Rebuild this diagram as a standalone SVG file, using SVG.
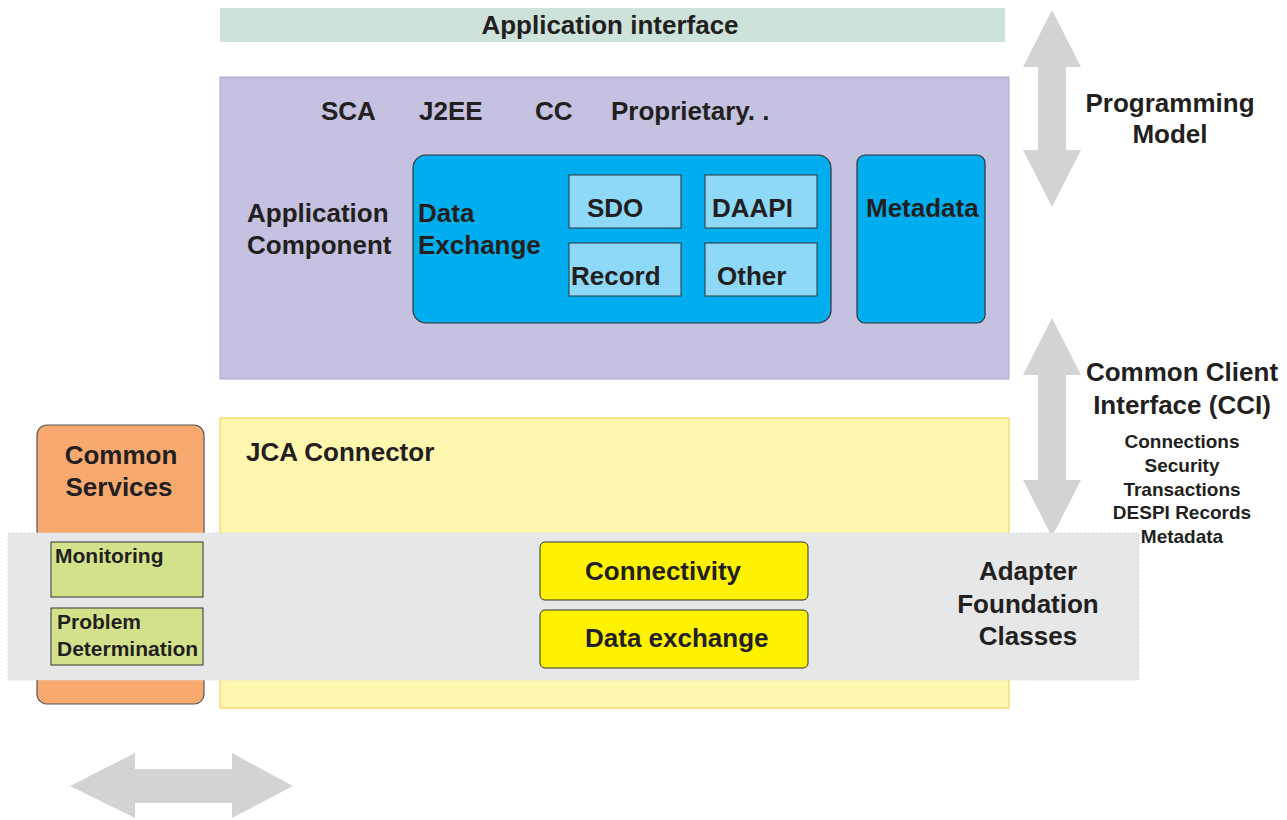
<svg xmlns="http://www.w3.org/2000/svg" width="1287" height="820" viewBox="0 0 1287 820">
<style>
text{font-family:"Liberation Sans",Arial,sans-serif;font-weight:bold;fill:#231f20;font-size:26px}
.s{font-size:19px}
.m{font-size:21px}
.c{text-anchor:middle}
.arrow{fill:#d1d3d4}
.inner{fill:#8ed8f8;stroke:#333;stroke-width:1}
.blue{fill:#00aeef;stroke:#333;stroke-width:1.2}
.green{fill:#d3e28a;stroke:#333;stroke-width:1}
.yel{fill:#fff200;stroke:#333;stroke-width:1}
</style>
<rect width="1287" height="820" fill="#ffffff"/>
<g id="connectors">
<path class="arrow" d="M1052,10 L1081,67 L1066,67 L1066,150 L1081,150 L1052,207 L1023,150 L1038,150 L1038,67 L1023,67 Z"/>
<path class="arrow" d="M1052,318 L1081,375 L1066,375 L1066,480 L1081,480 L1052,537 L1023,480 L1038,480 L1038,375 L1023,375 Z"/>
<path class="arrow" d="M70,786 L135,753 L135,769 L232,769 L232,753 L293,786 L232,818 L232,803 L135,803 L135,818 Z"/>
</g>
<g id="app-interface">
<rect x="220" y="8" width="785" height="34" fill="#cde3da"/>
<text x="610" y="34" class="c">Application interface</text>
</g>
<g id="application-component">
<rect x="220" y="77" width="789" height="302" fill="#c5c1e0" stroke="#aaa4d6" stroke-width="1"/>
<text x="321" y="120">SCA</text>
<text x="419" y="120">J2EE</text>
<text x="535" y="120">CC</text>
<text x="611" y="120">Proprietary. .</text>
<text x="247" y="222">Application</text>
<text x="247" y="254">Component</text>
</g>
<g id="data-exchange">
<rect class="blue" x="413" y="155" width="418" height="168" rx="13"/>
<text x="418" y="222">Data</text>
<text x="418" y="254">Exchange</text>
</g>
<g id="sdo"><rect class="inner" x="569" y="175" width="112" height="53"/><text x="587" y="217">SDO</text></g>
<g id="daapi"><rect class="inner" x="705" y="175" width="112" height="53"/><text x="712" y="217">DAAPI</text></g>
<g id="record"><rect class="inner" x="569" y="243" width="112" height="53"/><text x="571" y="285">Record</text></g>
<g id="other"><rect class="inner" x="705" y="243" width="112" height="53"/><text x="717" y="285">Other</text></g>
<g id="metadata">
<rect class="blue" x="857" y="155" width="128" height="168" rx="8"/>
<text x="866" y="217">Metadata</text>
</g>
<g id="programming-model">
<text x="1170" y="112" class="c">Programming</text>
<text x="1170" y="143" class="c">Model</text>
</g>
<g id="cci">
<text x="1182" y="381" class="c">Common Client</text>
<text x="1182" y="414" class="c">Interface (CCI)</text>
<text x="1182" y="448" class="c s">Connections</text>
<text x="1182" y="472" class="c s">Security</text>
<text x="1182" y="496" class="c s">Transactions</text>
<text x="1182" y="519" class="c s">DESPI Records</text>
<text x="1182" y="543" class="c s">Metadata</text>
</g>
<g id="jca-connector">
<rect x="220" y="418" width="789" height="290" fill="#fff6b0" stroke="#f9c842" stroke-width="1"/>
<text x="246" y="461">JCA Connector</text>
</g>
<g id="common-services">
<rect x="37" y="425" width="167" height="279" rx="10" fill="#f7a970" stroke="#555" stroke-width="1.2"/>
<text x="121" y="464" class="c">Common</text>
<text x="119" y="496" class="c">Services</text>
</g>
<g id="adapter-foundation">
<rect x="8" y="533" width="1131" height="147" fill="#e6e7e8" stroke="#d9dadb" stroke-width="1" stroke-dasharray="2,2"/>
<text x="1028" y="580" class="c">Adapter</text>
<text x="1028" y="613" class="c">Foundation</text>
<text x="1028" y="645" class="c">Classes</text>
</g>
<g id="monitoring"><rect class="green" x="51" y="542" width="152" height="55"/><text x="55" y="563" class="m">Monitoring</text></g>
<g id="problem-determination">
<rect class="green" x="51" y="608" width="152" height="57"/>
<text x="57" y="629" class="m">Problem</text>
<text x="57" y="656" class="m">Determination</text>
</g>
<g id="connectivity"><rect class="yel" x="540" y="542" width="268" height="58" rx="5"/><text x="585" y="580">Connectivity</text></g>
<g id="data-exchange-afc"><rect class="yel" x="540" y="610" width="268" height="58" rx="5"/><text x="585" y="647">Data exchange</text></g>
</svg>
